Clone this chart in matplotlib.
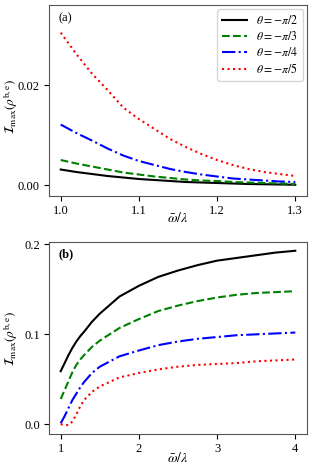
import matplotlib
matplotlib.use("Agg")
import matplotlib.pyplot as plt

plt.rcParams['font.family'] = ['Liberation Serif', 'DejaVu Serif']
plt.rcParams['mathtext.fontset'] = 'stix'

# panel (a) data
xa = [1.00, 1.02, 1.04, 1.06, 1.08, 1.10, 1.12, 1.14, 1.16, 1.18, 1.20, 1.22, 1.24, 1.26, 1.28, 1.30]
a_pi2 = [0.0031, 0.0026, 0.0022, 0.0018, 0.0015, 0.0012, 0.0010, 0.0008, 0.0006, 0.0005, 0.0004, 0.0003, 0.0002, 0.00015, 0.0001, 0.00005]
a_pi3 = [0.0050, 0.0043, 0.0037, 0.0031, 0.0025, 0.0021, 0.0017, 0.0014, 0.0011, 0.0009, 0.0008, 0.0006, 0.0005, 0.0004, 0.0003, 0.0002]
a_pi4 = [0.0121, 0.0104, 0.0089, 0.0073, 0.0059, 0.0048, 0.0040, 0.0032, 0.0026, 0.0021, 0.0017, 0.0013, 0.0011, 0.0009, 0.0007, 0.0006]
a_pi5 = [0.0305, 0.0262, 0.0223, 0.0190, 0.0155, 0.0132, 0.0112, 0.0092, 0.0076, 0.0062, 0.0050, 0.0040, 0.0032, 0.0026, 0.0022, 0.0018]

# panel (b) data
xb = [1.0, 1.05, 1.1, 1.15, 1.2, 1.25, 1.3, 1.4, 1.5, 1.75, 2.0, 2.25, 2.5, 2.75, 3.0, 3.25, 3.5, 3.75, 4.0]
b_pi2 = [0.059, 0.068, 0.077, 0.085, 0.092, 0.098, 0.103, 0.114, 0.123, 0.142, 0.154, 0.164, 0.171, 0.177, 0.182, 0.185, 0.188, 0.191, 0.193]
b_pi3 = [0.028, 0.038, 0.048, 0.058, 0.066, 0.072, 0.077, 0.086, 0.093, 0.107, 0.117, 0.126, 0.132, 0.137, 0.141, 0.144, 0.146, 0.147, 0.148]
b_pi4 = [0.001, 0.009, 0.018, 0.027, 0.034, 0.041, 0.047, 0.057, 0.064, 0.0755, 0.082, 0.088, 0.092, 0.095, 0.097, 0.099, 0.100, 0.101, 0.102]
b_pi5 = [0.000, -0.001, -0.001, 0.003, 0.011, 0.020, 0.027, 0.036, 0.042, 0.052, 0.057, 0.061, 0.064, 0.066, 0.067, 0.068, 0.070, 0.071, 0.072]

labels = [r'$\theta=-\pi/2$', r'$\theta=-\pi/3$', r'$\theta=-\pi/4$', r'$\theta=-\pi/5$']
styles = [('k', '-'), ('g', '--'), ('b', '-.'), ('r', ':')]

fig = plt.figure(figsize=(3.12, 4.70), dpi=100)
ax1 = fig.add_axes([0.157, 0.583, 0.827, 0.406])
ax2 = fig.add_axes([0.157, 0.077, 0.827, 0.408])

for ys, (c, ls), lab in zip([a_pi2, a_pi3, a_pi4, a_pi5], styles, labels):
    ax1.plot(xa, ys, color=c, ls=ls, lw=1.5, label=lab)
for ys, (c, ls) in zip([b_pi2, b_pi3, b_pi4, b_pi5], styles):
    ax2.plot(xb, ys, color=c, ls=ls, lw=1.5)

ax1.set_ylim(-0.0022, 0.036)
ax1.set_yticks([0.0, 0.02])
ax1.set_yticklabels(['0.00', '0.02'])
ax1.set_xticks([1.0, 1.1, 1.2, 1.3])
ax1.legend(loc='upper right', fontsize=8.5, handlelength=2.1, labelspacing=0.25,
           borderaxespad=0.35)

ax2.set_yticks([0.0, 0.1, 0.2])
ax2.set_xticks([1, 2, 3, 4])

for ax, tag, ylc, xlc in [(ax1, '(a)', 0.47, -0.115), (ax2, '(b)', 0.495, -0.125)]:
    ax.set_xlabel(r'$\bar{\omega}/\lambda$', fontsize=10, va='center')
    ax.set_ylabel(r'$\mathcal{I}_{\max}(\rho^{\mathrm{b,e}})$', fontsize=9.5, va='center')
    ax.xaxis.set_label_coords(0.5, xlc)
    ax.yaxis.set_label_coords(-0.148, ylc)
    ax.tick_params(labelsize=9, length=3.5, pad=3)
    ax.text(0.035, 0.965, tag, transform=ax.transAxes, ha='left', va='top',
            fontsize=9, fontweight='bold' if tag == '(b)' else 'normal')
    for s in ax.spines.values():
        s.set_color('#555555')

fig.savefig('out.png', dpi=100)
